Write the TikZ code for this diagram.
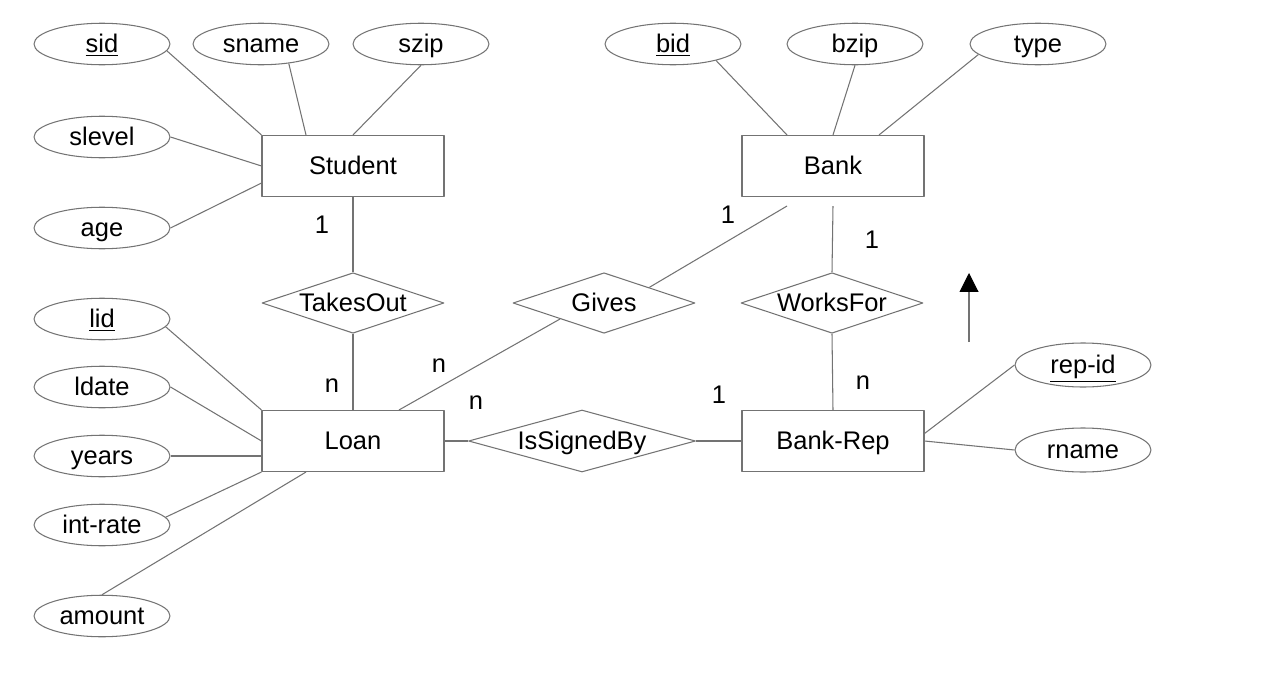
\documentclass[tikz,border=0pt]{standalone}
\usepackage{fontspec}
\setmainfont{Liberation Sans}
\usetikzlibrary{shapes.geometric,arrows.meta}

\begin{document}
\begin{tikzpicture}[x=0.02cm,y=-0.02cm,join=round,font=\fontsize{14.5}{17}\selectfont,
        ln/.style={draw=black!55,line width=0.6pt},
        txt/.style={text height=1.8ex,text depth=0ex},
        ent/.style={ln,txt,rectangle,inner sep=0pt,minimum width=3.64cm,minimum height=1.22cm},
        rel/.style={ln,txt,diamond,inner sep=0pt,minimum width=3.64cm,minimum height=1.21cm},
        attr/.style={ln,txt,ellipse,inner sep=0pt,minimum width=2.72cm,minimum height=0.83cm}] % student loan ER diagram
        \useasboundingbox (0,0) rectangle (1286,676);
        % entities
        \node[ent] (stud) at (353,166) {Student};
        \node[ent] (bank) at (833,166) {Bank};
        \node[ent] (loan) at (353,441) {Loan};
        \node[ent] (rep) at (833,441) {Bank-Rep};
        % relationships
        \node[rel] (takes) at (353,303) {\makebox[0pt]{TakesOut}};
        \node[rel] (gives) at (604,303) {\makebox[0pt]{Gives}};
        \node[rel] (works) at (832,303) {\makebox[0pt]{WorksFor}};
        \node[rel,minimum width=4.54cm,minimum height=1.24cm] (signed) at (582,441) {\makebox[0pt]{IsSignedBy}};
        % attributes
        \node[attr] (sid) at (102,44) {\underline{sid}};
        \node[attr] (sname) at (261,44) {sname};
        \node[attr] (szip) at (421,44) {szip};
        \node[attr] (slevel) at (102,137) {slevel};
        \node[attr] (age) at (102,228) {age};
        \node[attr] (bid) at (673,44) {\underline{bid}};
        \node[attr] (bzip) at (855,44) {bzip};
        \node[attr] (type) at (1038,44) {type};
        \node[attr] (lid) at (102,319) {\underline{lid}};
        \node[attr] (ldate) at (102,387) {ldate};
        \node[attr] (years) at (102,456) {years};
        \node[attr] (irate) at (102,525) {int-rate};
        \node[attr] (amount) at (102,616) {amount};
        \node[attr,minimum height=0.88cm] (repid) at (1083,365) {\underline{rep-id}};
        \node[attr,minimum height=0.88cm] (rname) at (1083,450) {rname};
        % attribute links
        \draw[ln] (sid.-6) -- (stud.north west);
        \draw[ln] (sname.-35) -- ([xshift=-0.94cm]stud.north);
        \draw[ln] (szip.south) -- (stud.north);
        \draw[ln] (slevel.east) -- (stud.west);
        \draw[ln] (age.east) -- ([yshift=0.28cm]stud.south west);
        \draw[ln] (bid.-21) -- ([xshift=-0.92cm]bank.north);
        \draw[ln] (bzip.south) -- (bank.north);
        \draw[ln] (type.190) -- ([xshift=0.92cm]bank.north);
        \draw[ln] (lid.-7) -- (loan.north west);
        \draw[ln] (ldate.east) -- (loan.west);
        \draw[ln] (years.east) -- (years.east -| loan.west);
        \draw[ln] (irate.7) -- (loan.south west);
        \draw[ln] (amount.north) -- ([xshift=-0.94cm]loan.south);
        \draw[ln] ([yshift=0.15cm]rep.east) -- (repid.west);
        \draw[ln] (rep.east) -- (rname.west);
        % relationship links
        \draw[ln] (stud.south) -- (takes.north);
        \draw[ln] (takes.south) -- (loan.north);
        \draw[ln] ([xshift=-0.92cm,yshift=-0.18cm]bank.south) -- (gives.19);
        \draw[ln] (gives.200) -- ([xshift=0.92cm]loan.north);
        \draw[ln] ([yshift=-0.18cm]bank.south) -- (works.north);
        \draw[ln] (works.south) -- (rep.north);
        \draw[ln] (loan.east) -- (signed.west);
        \draw[ln] (signed.east) -- (rep.west);
        % arrow
        \coordinate (arrS) at (969,342);
        \coordinate (arrE) at (969,273);
        \draw[ln,-{Triangle[color=black,width=0.38cm,length=0.38cm]}] (arrS) -- (arrE);
        % cardinalities
        \path (322,225) node (c1) {1}
              (332,386) node (c2) {n}
              (439,366) node (c3) {n}
              (476,403) node (c4) {n}
              (728,215) node (c5) {1}
              (872,240) node (c6) {1}
              (719,395) node (c7) {1}
              (863,383) node (c8) {n};
\end{tikzpicture}
\end{document}
